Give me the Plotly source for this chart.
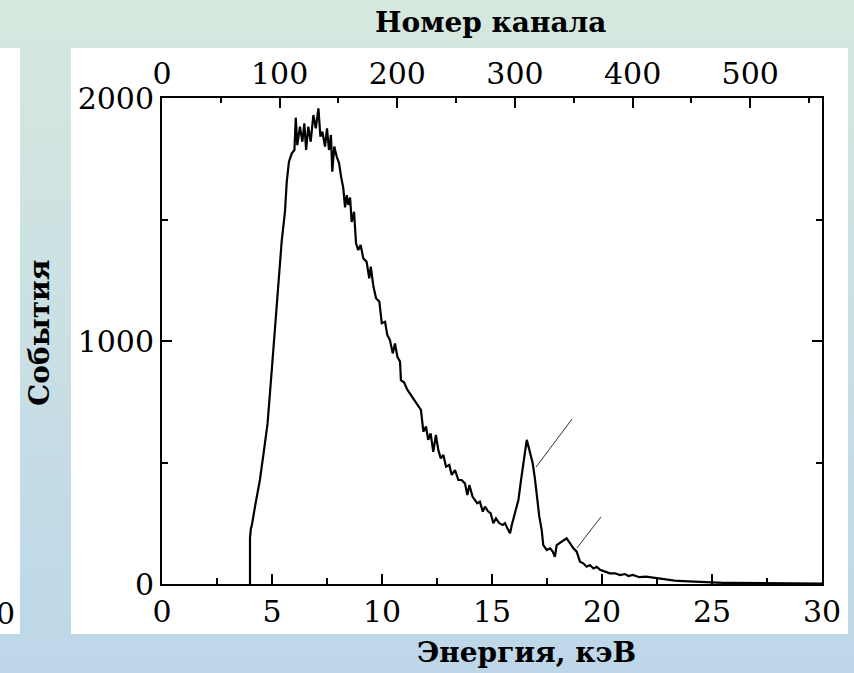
import plotly.graph_objects as go

# ---------------- data ----------------
energy_kev = [4.00, 4.00, 4.04, 4.08, 4.25, 4.45, 4.62, 4.80, 4.99, 5.18, 5.33, 5.44, 5.59, 5.67, 5.77,
              5.90, 6.02, 6.08, 6.15, 6.27, 6.38, 6.47, 6.55, 6.65, 6.76, 6.88, 6.99, 7.11, 7.20, 7.29,
              7.41, 7.50, 7.59, 7.68, 7.74, 7.83, 7.94, 8.05, 8.14, 8.24, 8.32, 8.40, 8.47, 8.55, 8.62,
              8.67, 8.73, 8.82, 8.92, 9.03, 9.15, 9.30, 9.42, 9.49, 9.61, 9.73, 9.88, 9.99, 10.14, 10.24,
              10.36, 10.49, 10.59, 10.70, 10.82, 10.86, 11.00, 11.15, 11.30, 11.45, 11.60, 11.77, 11.88,
              12.00, 12.10, 12.21, 12.33, 12.45, 12.56, 12.67, 12.79, 12.91, 13.06, 13.17, 13.32, 13.47,
              13.62, 13.77, 13.88, 13.97, 14.12, 14.23, 14.33, 14.45, 14.58, 14.68, 14.83, 14.94, 15.06,
              15.18, 15.33, 15.49, 15.59, 15.70, 15.82, 15.90, 16.05, 16.20, 16.32, 16.45, 16.58, 16.70,
              16.85, 16.95, 17.06, 17.15, 17.26, 17.33, 17.49, 17.64, 17.76, 17.86, 17.94, 18.06, 18.21,
              18.39, 18.55, 18.70, 18.85, 19.00, 19.15, 19.30, 19.45, 19.61, 19.76, 19.91, 20.14, 20.36,
              20.59, 20.82, 21.05, 21.20, 21.40, 21.70, 22.00, 22.50, 22.90, 23.30, 23.70, 24.10, 24.50,
              24.90, 25.50, 26.00, 26.70, 27.50, 28.50, 29.50, 30.00]
counts = [0, 190, 228, 240, 330, 428, 540, 662, 881, 1095, 1280, 1410, 1532, 1655, 1738,
          1772, 1786, 1919, 1806, 1882, 1820, 1896, 1786, 1882, 1820, 1930, 1875, 1957, 1841, 1861,
          1800, 1875, 1786, 1848, 1697, 1800, 1759, 1731, 1676, 1630, 1550, 1600, 1560, 1590, 1490,
          1505, 1532, 1402, 1374, 1395, 1340, 1326, 1258, 1306, 1224, 1176, 1162, 1073, 1079, 1025,
          1004, 949, 990, 935, 915, 839, 830, 800, 780, 760, 740, 716, 627,
          648, 593, 620, 544, 613, 551, 517, 531, 483, 490, 449, 469, 428,
          428, 414, 366, 407, 359, 346, 332, 339, 298, 318, 298, 291, 250,
          270, 250, 243, 250, 229, 209, 243, 298, 346, 428, 510, 593, 551,
          497, 435, 339, 277, 222, 160, 140, 147, 133, 112, 160, 167, 174,
          188, 167, 147, 133, 92, 85, 71, 78, 64, 71, 58, 51, 44,
          44, 37, 41, 33, 37, 28, 30, 23, 20, 14, 12, 10, 8,
          7, 5, 5, 4, 3, 3, 2, 2]

# pointer lines marking the two peaks (energy, counts)
pointer1_x = [17.0, 18.64]
pointer1_y = [481, 679]
pointer2_x = [18.86, 19.95]
pointer2_y = [148, 276]

energy_range = [0, 30]
counts_range = [0, 2000]
channels_per_kev = 18.7
channel_ticks = [0, 100, 200, 300, 400, 500]
energy_ticks = [0, 5, 10, 15, 20, 25, 30]
counts_ticks = [0, 1000, 2000]

title_top = "Номер канала"
title_x = "Энергия, кэВ"
title_y = "События"

# ---------------- layout geometry ----------------
W, H = 854, 673
L, R, T, B = 162, 822, 98, 584


def px(x):
    return (x - L) / (R - L)


def py(y):
    return (B - y) / (B - T)


FONT = "DejaVu Serif"
TICK_SIZE = 30
TITLE_SIZE = 28

fig = go.Figure()

fig.add_trace(go.Scatter(x=energy_kev, y=counts, mode="lines",
                         line=dict(color="black", width=2.2), showlegend=False,
                         hoverinfo="x+y"))
for xs, ys in [(pointer1_x, pointer1_y), (pointer2_x, pointer2_y)]:
    fig.add_trace(go.Scatter(x=xs, y=ys, mode="lines",
                             line=dict(color="#333333", width=1), showlegend=False,
                             hoverinfo="skip"))
# helper trace for the top (channel) axis
fig.add_trace(go.Scatter(x=[energy_range[0] * channels_per_kev, energy_range[1] * channels_per_kev],
                         y=[0, 0], xaxis="x2", mode="lines", opacity=0,
                         showlegend=False, hoverinfo="skip"))

# background gradient bands
top_c = (214, 232, 222)
bot_c = (189, 215, 233)
nb = 80
shapes = []
for i in range(nb):
    t = i / (nb - 1)
    c = tuple(round(top_c[k] + (bot_c[k] - top_c[k]) * t) for k in range(3))
    y0 = i * H / nb
    y1 = (i + 1) * H / nb + 1
    shapes.append(dict(type="rect", xref="paper", yref="paper",
                       x0=px(0), x1=px(W), y0=py(y1), y1=py(y0),
                       fillcolor="rgb(%d,%d,%d)" % c, line=dict(width=0), layer="below"))
# white panels
shapes.append(dict(type="rect", xref="paper", yref="paper", x0=px(71), x1=px(848),
                   y0=py(634), y1=py(48), fillcolor="white", line=dict(width=0), layer="below"))
shapes.append(dict(type="rect", xref="paper", yref="paper", x0=px(0), x1=px(20),
                   y0=py(634), y1=py(48), fillcolor="white", line=dict(width=0), layer="below"))

annotations = [
    dict(text="<b>%s</b>" % title_top, xref="paper", yref="paper", x=px(490), y=py(23),
         showarrow=False, font=dict(family=FONT, size=TITLE_SIZE, color="black"),
         xanchor="center", yanchor="middle"),
    dict(text="<b>%s</b>" % title_x, xref="paper", yref="paper", x=px(526), y=py(652),
         showarrow=False, font=dict(family=FONT, size=TITLE_SIZE, color="black"),
         xanchor="center", yanchor="middle"),
    dict(text="<b>%s</b>" % title_y, xref="paper", yref="paper", x=px(39), y=py(333),
         showarrow=False, textangle=-90, font=dict(family=FONT, size=TITLE_SIZE, color="black"),
         xanchor="center", yanchor="middle"),
    dict(text="0", xref="paper", yref="paper", x=px(5), y=py(613),
         showarrow=False, font=dict(family=FONT, size=TICK_SIZE, color="black"),
         xanchor="center", yanchor="middle"),
]

axis_common = dict(showline=True, linecolor="black", linewidth=2, ticks="inside",
                   tickcolor="black", tickwidth=2, ticklen=10, showgrid=False, zeroline=False,
                   tickfont=dict(family=FONT, size=TICK_SIZE, color="black"))

fig.update_layout(
    width=W, height=H,
    font=dict(family=FONT),
    margin=dict(l=L, r=W - R, t=T, b=H - B, pad=0),
    paper_bgcolor="white", plot_bgcolor="rgba(0,0,0,0)",
    shapes=shapes, annotations=annotations, showlegend=False,
    xaxis=dict(range=energy_range, tickvals=energy_ticks, mirror=False,
               minor=dict(dtick=2.5, ticks="inside", ticklen=6, tickwidth=2, tickcolor="black"),
               **axis_common),
    xaxis2=dict(range=[energy_range[0] * channels_per_kev, energy_range[1] * channels_per_kev],
                tickvals=channel_ticks, overlaying="x", side="top", anchor="y",
                minor=dict(dtick=50, ticks="inside", ticklen=5, tickwidth=2, tickcolor="black"),
                **axis_common),
    yaxis=dict(range=counts_range, tickvals=counts_ticks, mirror="ticks",
               minor=dict(dtick=500, ticks="inside", ticklen=6, tickwidth=2, tickcolor="black"),
               **axis_common),
)

fig.write_html("out.html")
